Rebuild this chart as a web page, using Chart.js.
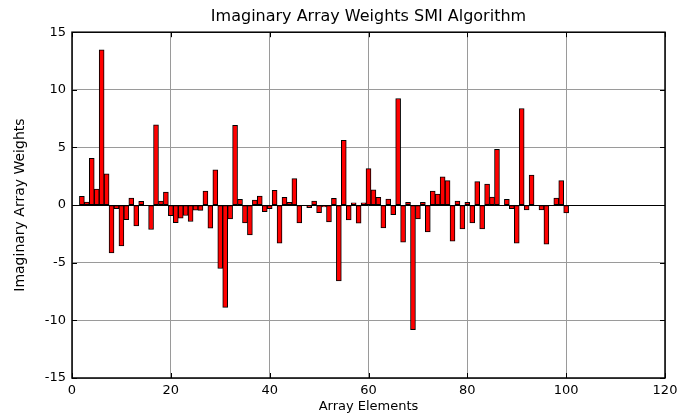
<!DOCTYPE html>
<html>
<head>
<meta charset="utf-8">
<script src="https://cdn.jsdelivr.net/npm/chart.js@4.4.0/dist/chart.umd.min.js"></script>
<style>
    html, body { margin: 0; padding: 0; background: #fff; }
    #wrap { width: 694px; height: 416px; }
</style>
</head>
<body>
<div id="wrap"><canvas id="chart"></canvas></div>
<script>
// element index of each bar
const elements = [
    1, 2, 3, 4, 5, 6, 7, 8, 9, 10,
    11, 12, 13, 14, 15, 16, 17, 18, 19, 20,
    21, 22, 23, 24, 25, 26, 27, 28, 29, 30,
    31, 32, 33, 34, 35, 36, 37, 38, 39, 40,
    41, 42, 43, 44, 45, 46, 47, 48, 49, 50,
    51, 52, 53, 54, 55, 56, 57, 58, 59, 60,
    61, 62, 63, 64, 65, 66, 67, 68, 69, 70,
    71, 72, 73, 74, 75, 76, 77, 78, 79, 80,
    81, 82, 83, 84, 85, 86, 87, 88, 89, 90,
    91, 92, 93, 94, 95, 96, 97, 98, 99, 100
];

// imaginary part of the SMI weights
const imagWeights = [
    0, 0.77, 0.26, 4.06, 1.39, 13.48, 2.72, -4.14, -0.3, -3.54,
    -1.27, 0.61, -1.8, 0.33, 0, -2.12, 6.96, 0.34, 1.13, -0.92,
    -1.53, -1.13, -0.9, -1.42, -0.43, -0.46, 1.22, -2.0, 3.07, -5.5,
    -8.87, -1.19, 6.93, 0.49, -1.54, -2.58, 0.43, 0.78, -0.58, -0.32,
    1.28, -3.3, 0.68, 0.23, 2.29, -1.54, 0, -0.22, 0.35, -0.65,
    -0.15, -1.45, 0.58, -6.58, 5.62, -1.28, 0.2, -1.57, 0.2, 3.16,
    1.33, 0.67, -1.97, 0.52, -0.84, 9.25, -3.22, 0.23, -10.81, -1.19,
    0.23, -2.32, 1.22, 0.96, 2.45, 2.12, -3.13, 0.35, -2.06, 0.23,
    -1.54, 2.03, -2.06, 1.83, 0.7, 4.84, 0, 0.49, -0.32, -3.3,
    8.38, -0.41, 2.61, 0, -0.41, -3.39, 0, 0.61, 2.12, -0.67
];

const xLimits = [0, 120];
const yLimits = [-15, 15];

const fontFamily = '"DejaVu Sans", "Liberation Sans", Arial, sans-serif';

// matlab style box: inward ticks on all four sides, baseline at zero
const matlabBox = {
    id: 'matlabBox',
    afterDatasetsDraw(chart) {
        const { ctx, chartArea: a, scales: { x, y } } = chart;
        ctx.save();
        ctx.strokeStyle = '#000';
        ctx.lineWidth = 1;

        const y0 = Math.round(y.getPixelForValue(0)) + 0.5;
        ctx.beginPath();
        ctx.moveTo(a.left, y0);
        ctx.lineTo(a.right, y0);
        ctx.stroke();

        ctx.beginPath();
        x.ticks.forEach(t => {
            const px = Math.round(x.getPixelForValue(t.value)) + 0.5;
            ctx.moveTo(px, a.bottom); ctx.lineTo(px, a.bottom - 5);
            ctx.moveTo(px, a.top); ctx.lineTo(px, a.top + 5);
        });
        y.ticks.forEach(t => {
            const py = Math.round(y.getPixelForValue(t.value)) + 0.5;
            ctx.moveTo(a.left, py); ctx.lineTo(a.left + 5, py);
            ctx.moveTo(a.right, py); ctx.lineTo(a.right - 5, py);
        });
        ctx.stroke();

        ctx.lineWidth = 1.5;
        ctx.strokeRect(a.left, a.top, a.right - a.left, a.bottom - a.top);
        ctx.restore();
    }
};

const ctx = document.getElementById('chart').getContext('2d');

new Chart(ctx, {
    type: 'bar',
    data: {
        datasets: [{
            data: elements.map((e, i) => ({ x: e, y: imagWeights[i] })),
            backgroundColor: '#ff0000',
            borderColor: '#000000',
            borderWidth: 1,
            borderSkipped: false,
            barPercentage: 1.0,
            categoryPercentage: 1.0
        }]
    },
    options: {
        responsive: true,
        maintainAspectRatio: false,
        animation: false,
        layout: { padding: { left: 0, right: 29, top: 0, bottom: 0 } },
        plugins: {
            legend: { display: false },
            tooltip: { enabled: false },
            title: {
                display: true,
                fullSize: false,
                text: 'Imaginary Array Weights SMI Algorithm',
                color: '#000',
                font: { family: fontFamily, size: 16, weight: 'normal' },
                padding: { top: 7, bottom: 6 }
            }
        },
        scales: {
            x: {
                type: 'linear',
                min: xLimits[0],
                max: xLimits[1],
                offset: false,
                ticks: {
                    stepSize: 20,
                    color: '#000',
                    padding: 5,
                    maxRotation: 0,
                    font: { family: fontFamily, size: 13 }
                },
                grid: { color: '#9a9a9a', lineWidth: 1, drawTicks: false, offset: false },
                border: { display: false },
                title: {
                    display: true,
                    text: 'Array Elements',
                    color: '#000',
                    font: { family: fontFamily, size: 13 },
                    padding: { top: 0, bottom: 2 }
                },
                afterFit: s => { s.height = 38; }
            },
            y: {
                min: yLimits[0],
                max: yLimits[1],
                ticks: {
                    stepSize: 5,
                    color: '#000',
                    padding: 6,
                    font: { family: fontFamily, size: 13 }
                },
                grid: { color: '#9a9a9a', lineWidth: 1, drawTicks: false },
                border: { display: false },
                title: {
                    display: true,
                    text: 'Imaginary Array Weights',
                    color: '#000',
                    font: { family: fontFamily, size: 14 },
                    padding: { top: 12, bottom: 0 }
                },
                afterFit: s => { s.width = 72; }
            }
        }
    },
    plugins: [matlabBox]
});
</script>
</body>
</html>
